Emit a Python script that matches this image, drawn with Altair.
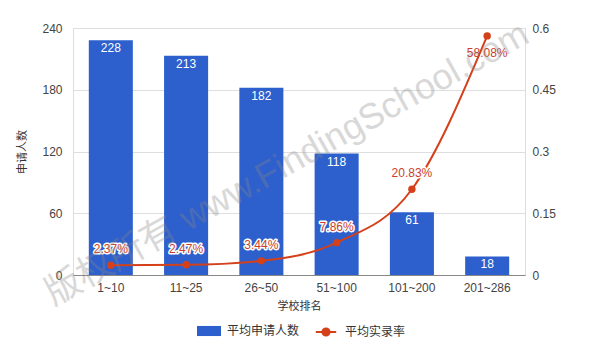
import altair as alt
import pandas as pd

categories = ["1~10", "11~25", "26~50", "51~100", "101~200", "201~286"]
applicants = [228, 213, 182, 118, 61, 18]
rates = [0.0237, 0.0247, 0.0344, 0.0786, 0.2083, 0.5808]
rate_labels = ["2.37%", "2.47%", "3.44%", "7.86%", "20.83%", "58.08%"]
series_bar = ["平均申请人数"]
series_line = ["平均实录率"]
left_ticks = [0, 60, 120, 180, 240]
right_ticks = [0, 0.15, 0.3, 0.45, 0.6]
watermark = ["版权所有 www.FindingSchool.com"]

df = pd.DataFrame({"rank": categories, "applicants": applicants,
                   "rate": rates, "rate_label": rate_labels})

BLUE = "#2d5fcd"
RED = "#d4401a"
LABEL_RED = "#c8412c"
FONT = "Liberation Sans, Noto Sans CJK SC"

x = alt.X("rank:N", sort=categories, title="学校排名",
          scale=alt.Scale(paddingInner=0.415, paddingOuter=0.21),
          axis=alt.Axis(labelAngle=0, labelFontSize=12, labelColor="#444",
                        labelPadding=7, ticks=False, domainColor="#888",
                        titleFontSize=11, titleColor="#333",
                        titleFontWeight="normal", titlePadding=7))

bar_legend = alt.Legend(
    title=None, orient="none", legendX=124, legendY=291,
    symbolType="M-1,-0.42H1V0.42H-1Z", symbolSize=576, symbolStrokeWidth=0,
    labelFontSize=12, labelColor="#333", labelFont=FONT, labelOffset=6, padding=0)

line_legend = alt.Legend(
    title=None, orient="none", legendX=240, legendY=291,
    symbolType="M-0.85,0H0.85M-0.3,0A0.3,0.3 0 1,1 0.3,0A0.3,0.3 0 1,1 -0.3,0Z",
    symbolSize=576, symbolStrokeWidth=2, symbolFillColor=RED,
    symbolStrokeColor=RED, symbolOpacity=1,
    labelFontSize=12, labelColor="#333", labelFont=FONT, labelOffset=6, padding=0)

y_left = alt.Y("applicants:Q", scale=alt.Scale(domain=[0, 240]),
               axis=alt.Axis(values=left_ticks, title="申请人数", grid=True,
                             gridColor="#dedede", domain=False, ticks=False,
                             labelPadding=11, labelFontSize=12, labelColor="#444",
                             titleFontSize=11, titleColor="#333",
                             titleFontWeight="normal", titlePadding=14))

base = alt.Chart(df)

bars = base.transform_calculate(series="'平均申请人数'").mark_bar().encode(
    x=x, y=y_left,
    color=alt.Color("series:N", scale=alt.Scale(domain=series_bar, range=[BLUE]),
                    legend=bar_legend))

bar_text = base.mark_text(color="white", baseline="top", dy=3, fontSize=12,
                          font=FONT).encode(x=x, y=y_left, text="applicants:Q")

left = alt.layer(bars, bar_text)

y_right = alt.Y("rate:Q", scale=alt.Scale(domain=[0, 0.6]),
                axis=alt.Axis(values=right_ticks, orient="right", title=None,
                              grid=False, domain=False, ticks=False, format=".2~f",
                              labelPadding=7, labelFontSize=12, labelColor="#444"))

line = base.transform_calculate(series="'平均实录率'").mark_line(
    strokeWidth=2, interpolate="monotone").encode(
    x=x, y=y_right,
    stroke=alt.Stroke("series:N", scale=alt.Scale(domain=series_line, range=[RED]),
                      legend=line_legend))

pts = base.mark_circle(size=55, color=RED, opacity=1).encode(x=x, y=y_right)

low = base.transform_filter("datum.rate < 0.5")
high = base.transform_filter("datum.rate >= 0.5")

halo = low.mark_text(dy=-16, fontSize=12, font=FONT, color="white",
                     stroke="white", strokeWidth=3, strokeJoin="round").encode(
    x=x, y=y_right, text="rate_label:N")
lab = low.mark_text(dy=-16, fontSize=12, font=FONT, color=LABEL_RED).encode(
    x=x, y=y_right, text="rate_label:N")
lab_hi = high.mark_text(dy=17, fontSize=12, font=FONT, color=LABEL_RED).encode(
    x=x, y=y_right, text="rate_label:N")

right = alt.layer(line, pts, halo, lab, lab_hi)

wm = alt.Chart(pd.DataFrame({"t": watermark})).mark_text(
    angle=331, fontSize=36, font=FONT, color="#888", opacity=0.32).encode(
    text="t:N", x=alt.value(214), y=alt.value(136))

chart = alt.layer(left, right, wm).resolve_scale(y="independent").properties(
    width=452, height=247,
    autosize=alt.AutoSizeParams(type="none"),
    padding={"left": 73, "top": 28, "right": 75, "bottom": 64},
).configure_view(stroke=None).configure(font=FONT)

chart.save("out.html", embed_options={"renderer": "svg", "actions": False})
